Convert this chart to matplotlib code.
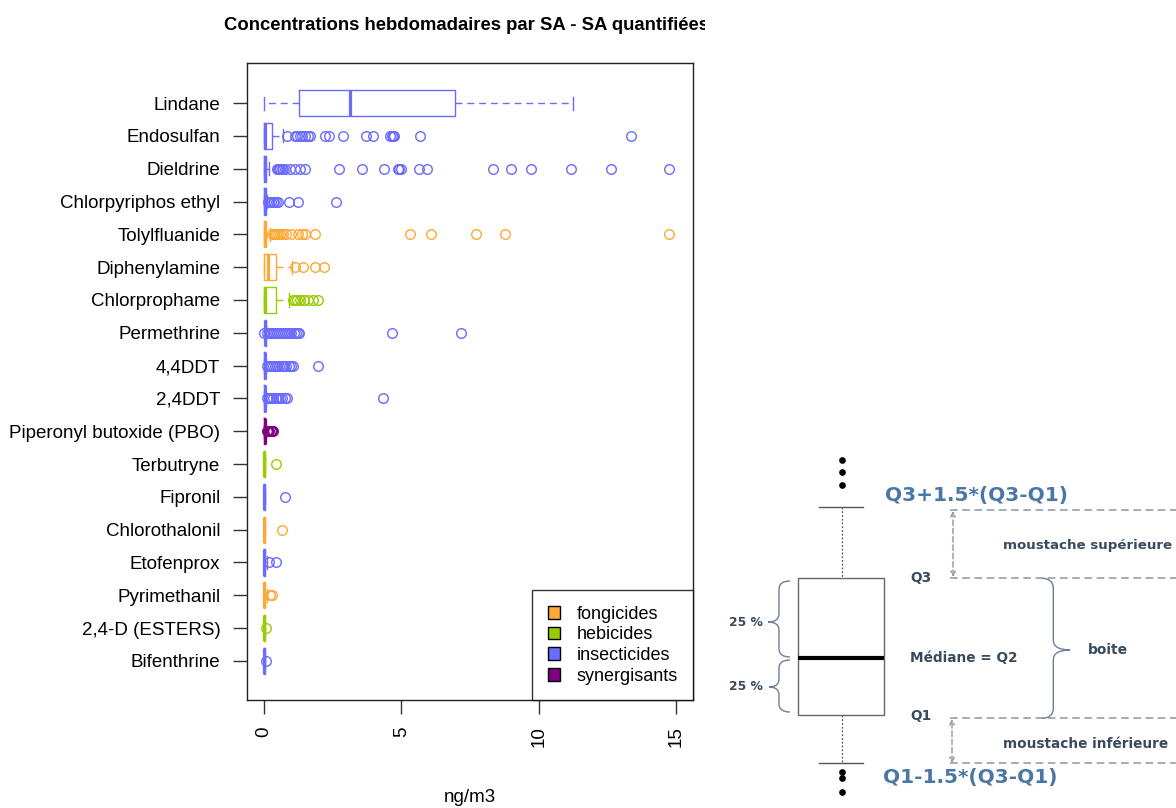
import matplotlib
matplotlib.use("Agg")
import matplotlib.pyplot as plt
from matplotlib.patches import Patch, PathPatch, Rectangle
from matplotlib.path import Path
from matplotlib.transforms import Bbox

plt.rcParams['font.family'] = ['Liberation Sans', 'DejaVu Sans']

# ---------------- data ----------------
names = ["Lindane", "Endosulfan", "Dieldrine", "Chlorpyriphos ethyl", "Tolylfluanide",
         "Diphenylamine", "Chlorprophame", "Permethrine", "4,4DDT", "2,4DDT",
         "Piperonyl butoxide (PBO)", "Terbutryne", "Fipronil", "Chlorothalonil",
         "Etofenprox", "Pyrimethanil", "2,4-D (ESTERS)", "Bifenthrine"]
groups = ["insecticides", "insecticides", "insecticides", "insecticides", "fongicides",
          "fongicides", "hebicides", "insecticides", "insecticides", "insecticides",
          "synergisants", "hebicides", "insecticides", "fongicides",
          "insecticides", "fongicides", "hebicides", "insecticides"]

whislo = [0.0, 0.0, 0.0, 0.0, 0.0, 0.0, 0.0, 0.03, 0.0, 0.0, 0.0, 0.0, 0.0, 0.0, 0.0, 0.0, 0.0, 0.0]
q1 = [1.27, 0.0, 0.0, 0.0, 0.0, 0.0, 0.0, 0.04, 0.0, 0.0, 0.0, 0.0, 0.0, 0.0, 0.0, 0.0, 0.0, 0.0]
med = [3.13, 0.02, 0.02, 0.02, 0.02, 0.15, 0.02, 0.05, 0.02, 0.02, 0.02, 0.01, 0.01, 0.01, 0.01, 0.01, 0.01, 0.01]
q3 = [6.95, 0.30, 0.08, 0.06, 0.08, 0.43, 0.43, 0.07, 0.05, 0.05, 0.05, 0.03, 0.03, 0.03, 0.03, 0.03, 0.03, 0.03]
whishi = [11.24, 0.68, 0.20, 0.12, 0.22, 1.02, 0.90, 0.09, 0.08, 0.08, 0.08, 0.05, 0.05, 0.05, 0.12, 0.12, 0.05, 0.05]
fliers = [
    [],
    [0.85, 1.13, 1.20, 1.31, 1.38, 1.49, 1.60, 1.67, 2.22, 2.38, 2.89, 3.71, 3.98,
     4.60, 4.65, 4.70, 4.73, 5.68, 13.35],
    [0.48, 0.52, 0.56, 0.60, 0.64, 0.70, 0.78, 0.95, 1.13, 1.31, 1.49, 2.74, 3.56,
     4.38, 4.88, 4.93, 4.98, 5.65, 5.92, 8.35, 8.98, 9.71, 11.18, 12.63, 14.75],
    [0.15, 0.20, 0.26, 0.32, 0.38, 0.45, 0.50, 0.92, 1.23, 2.62],
    [0.28, 0.35, 0.42, 0.50, 0.58, 0.70, 0.80, 1.00, 1.25, 1.40, 1.49, 1.86,
     5.31, 6.07, 7.72, 8.76, 14.75],
    [1.12, 1.42, 1.86, 2.20],
    [1.05, 1.12, 1.20, 1.30, 1.45, 1.62, 1.80, 1.98],
    [0.0, 0.12, 0.18, 0.25, 0.32, 0.40, 0.48, 0.55, 0.62, 0.70, 0.78, 0.85, 0.92,
     1.00, 1.08, 1.15, 1.22, 1.27, 4.65, 7.17],
    [0.10, 0.17, 0.25, 0.32, 0.40, 0.48, 0.56, 0.64, 0.72, 0.80, 0.90, 0.98, 1.06, 1.95],
    [0.10, 0.18, 0.26, 0.34, 0.42, 0.50, 0.58, 0.66, 0.76, 0.84, 4.32],
    [0.10, 0.15, 0.20, 0.25, 0.30, 0.34],
    [0.43],
    [0.76],
    [0.67],
    [0.20, 0.42],
    [0.22, 0.30],
    [0.08],
    [0.08],
]

legend_groups = ["fongicides", "hebicides", "insecticides", "synergisants"]
group_colors = {"fongicides": "#FFA833", "hebicides": "#99CC00",
                "insecticides": "#6B6BFF", "synergisants": "#800080"}
xticks = [0, 5, 10, 15]
title = "Concentrations hebdomadaires par SA - SA quantifiées"
xlabel = "ng/m3"

# ---------------- figure ----------------
W, H = 1176, 808
fig = plt.figure(figsize=(W / 100, H / 100), dpi=100)
fig.patch.set_facecolor("white")

ax_l, ax_r, ax_t, ax_b = 246.7, 693.3, 62.7, 700.0
ax = fig.add_axes([ax_l / W, (H - ax_b) / H, (ax_r - ax_l) / W, (ax_b - ax_t) / H])

stats = []
for i in range(len(names)):
    stats.append(dict(med=med[i], q1=q1[i], q3=q3[i], whislo=whislo[i],
                      whishi=whishi[i], fliers=fliers[i]))
positions = list(range(len(names)))
res = ax.bxp(stats, positions=positions, orientation='horizontal', widths=0.8,
             capwidths=0.4, manage_ticks=False,
             boxprops=dict(linewidth=1.0),
             whiskerprops=dict(linewidth=1.0, linestyle=(0, (5, 3.5))),
             capprops=dict(linewidth=1.0),
             medianprops=dict(linewidth=2.3, solid_capstyle='butt'),
             flierprops=dict(marker='o', markerfacecolor='none', markersize=6.9,
                             markeredgewidth=1.0, linestyle='none'))
for i, g in enumerate(groups):
    c = group_colors[g]
    res['boxes'][i].set_color(c)
    res['medians'][i].set_color(c)
    for k in (2 * i, 2 * i + 1):
        res['whiskers'][k].set_color(c)
        res['caps'][k].set_color(c)
    res['fliers'][i].set_markeredgecolor(c)

ax.set_yticks(positions)
ax.set_yticklabels(names)
ax.set_ylim(len(names) - 1 + 1.19, -1.23)
ax.set_xlim(-0.63, 15.63)
ax.set_xticks(xticks)
ax.set_xticklabels([str(v) for v in xticks], rotation=90, va='top')
ax.tick_params(axis='both', direction='out', length=10, width=1.0, labelsize=13.5,
               pad=9, color='#333333')
for s in ax.spines.values():
    s.set_linewidth(1.0)
    s.set_color('#222222')

handles = [Patch(facecolor=group_colors[g], edgecolor='black', linewidth=1.0, label=g)
           for g in legend_groups]
leg = ax.legend(handles=handles, loc='lower right', frameon=True, fancybox=False,
                edgecolor='black', fontsize=13, handlelength=0.7, handleheight=0.7,
                labelspacing=0.2, borderpad=0.85, handletextpad=0.9,
                borderaxespad=0)
leg.get_frame().set_linewidth(1.0)

t = fig.text(466 / W, 1 - 26 / H, title, ha='center', va='center', fontsize=13.3,
             fontweight='bold')
t.set_clip_box(Bbox.from_extents(0, 0, 705, H))
t.set_clip_on(True)
fig.text(470 / W, 1 - 797 / H, xlabel, ha='center', va='center', fontsize=13.5)

# ---------------- explanatory diagram (schematic) ----------------
ax2 = fig.add_axes([0, 0, 1, 1])
ax2.set_xlim(0, W)
ax2.set_ylim(H, 0)
ax2.axis('off')

txt_dark = '#3A4A5E'
txt_blue = '#4A77A5'
gray = '#8C96A2'
brace_c = '#6F7E94'

bx0, bx1 = 797.7, 884.3
by_q3, by_med, by_q1 = 578.3, 658.3, 715.0
cap_hi, cap_lo = 507.3, 763.3
xc = 842
ax2.add_patch(Rectangle((bx0, by_q3), bx1 - bx0, by_q1 - by_q3, fill=False,
                        edgecolor='#666666', linewidth=1.0))
ax2.plot([bx0, bx1], [by_med, by_med], color='black', linewidth=3.0,
         solid_capstyle='butt')
ax2.plot([xc, xc], [cap_hi, by_q3], color='#555555', linewidth=0.9, linestyle=(0, (1.5, 1.5)))
ax2.plot([xc, xc], [by_q1, cap_lo], color='#555555', linewidth=0.9, linestyle=(0, (1.5, 1.5)))
ax2.plot([819.3, 862.7], [cap_hi, cap_hi], color='#555555', linewidth=1.0)
ax2.plot([819.3, 862.7], [cap_lo, cap_lo], color='#555555', linewidth=1.0)
ax2.plot([xc, xc, xc], [460, 472, 485], 'o', color='black', markersize=3.8)
ax2.plot([xc, xc, xc], [772, 778, 792], 'o', color='black', markersize=3.8)


def brace(a, xe, xs, xt, y0, y1, yt, r, **kw):
    verts = [(xe, y0), (xs, y0), (xs, y0 + r), (xs, yt - r), (xs, yt), (xt, yt),
             (xs, yt), (xs, yt + r), (xs, y1 - r), (xs, y1), (xe, y1)]
    codes = [Path.MOVETO, Path.CURVE3, Path.CURVE3, Path.LINETO, Path.CURVE3,
             Path.CURVE3, Path.CURVE3, Path.CURVE3, Path.LINETO, Path.CURVE3,
             Path.CURVE3]
    a.add_patch(PathPatch(Path(verts, codes), fill=False, **kw))


brace(ax2, 790, 779, 768, 581, 657, 622, 8, edgecolor=brace_c, linewidth=1.0)
brace(ax2, 790, 779, 769, 660, 712, 687, 8, edgecolor=brace_c, linewidth=1.0)
brace(ax2, 1041.7, 1053.3, 1070, 578.3, 718.3, 650, 10, edgecolor=brace_c, linewidth=1.0)

fd = dict(family='DejaVu Sans', fontweight='bold')
ax2.text(763, 622, "25 %", ha='right', va='center', fontsize=8.9, color=txt_dark, **fd)
ax2.text(763, 687, "25 %", ha='right', va='center', fontsize=8.9, color=txt_dark, **fd)
ax2.text(910, 578, "Q3", ha='left', va='center', fontsize=9.9, color=txt_dark, **fd)
ax2.text(910, 716, "Q1", ha='left', va='center', fontsize=9.9, color=txt_dark, **fd)
ax2.text(910, 658, "Médiane = Q2", ha='left', va='center', fontsize=9.8, color=txt_dark, **fd)
ax2.text(1088, 650, "boite", ha='left', va='center', fontsize=9.9, color=txt_dark, **fd)
ax2.text(1003, 545, "moustache supérieure", ha='left', va='center', fontsize=9.6,
         color=txt_dark, **fd)
ax2.text(1003, 744, "moustache inférieure", ha='left', va='center', fontsize=9.8,
         color=txt_dark, **fd)
ax2.text(885, 495, "Q3+1.5*(Q3-Q1)", ha='left', va='center', fontsize=14.5,
         color=txt_blue, **fd)
ax2.text(883, 777, "Q1-1.5*(Q3-Q1)", ha='left', va='center', fontsize=14.5,
         color=txt_blue, **fd)

for yy in (510, 577.7, 718.3, 763.3):
    ax2.plot([950, W], [yy, yy], color=gray, linewidth=1.1, linestyle=(0, (5, 3)))
for (xa, ya, yb) in ((953, 511, 577), (952, 719, 763)):
    ax2.annotate("", xy=(xa, ya), xytext=(xa, yb),
                 arrowprops=dict(arrowstyle='<->', color=gray, linewidth=1.0,
                                 linestyle=(0, (4, 2)), mutation_scale=8,
                                 shrinkA=0, shrinkB=0))

fig.savefig("out.png", dpi=100, facecolor='white')
